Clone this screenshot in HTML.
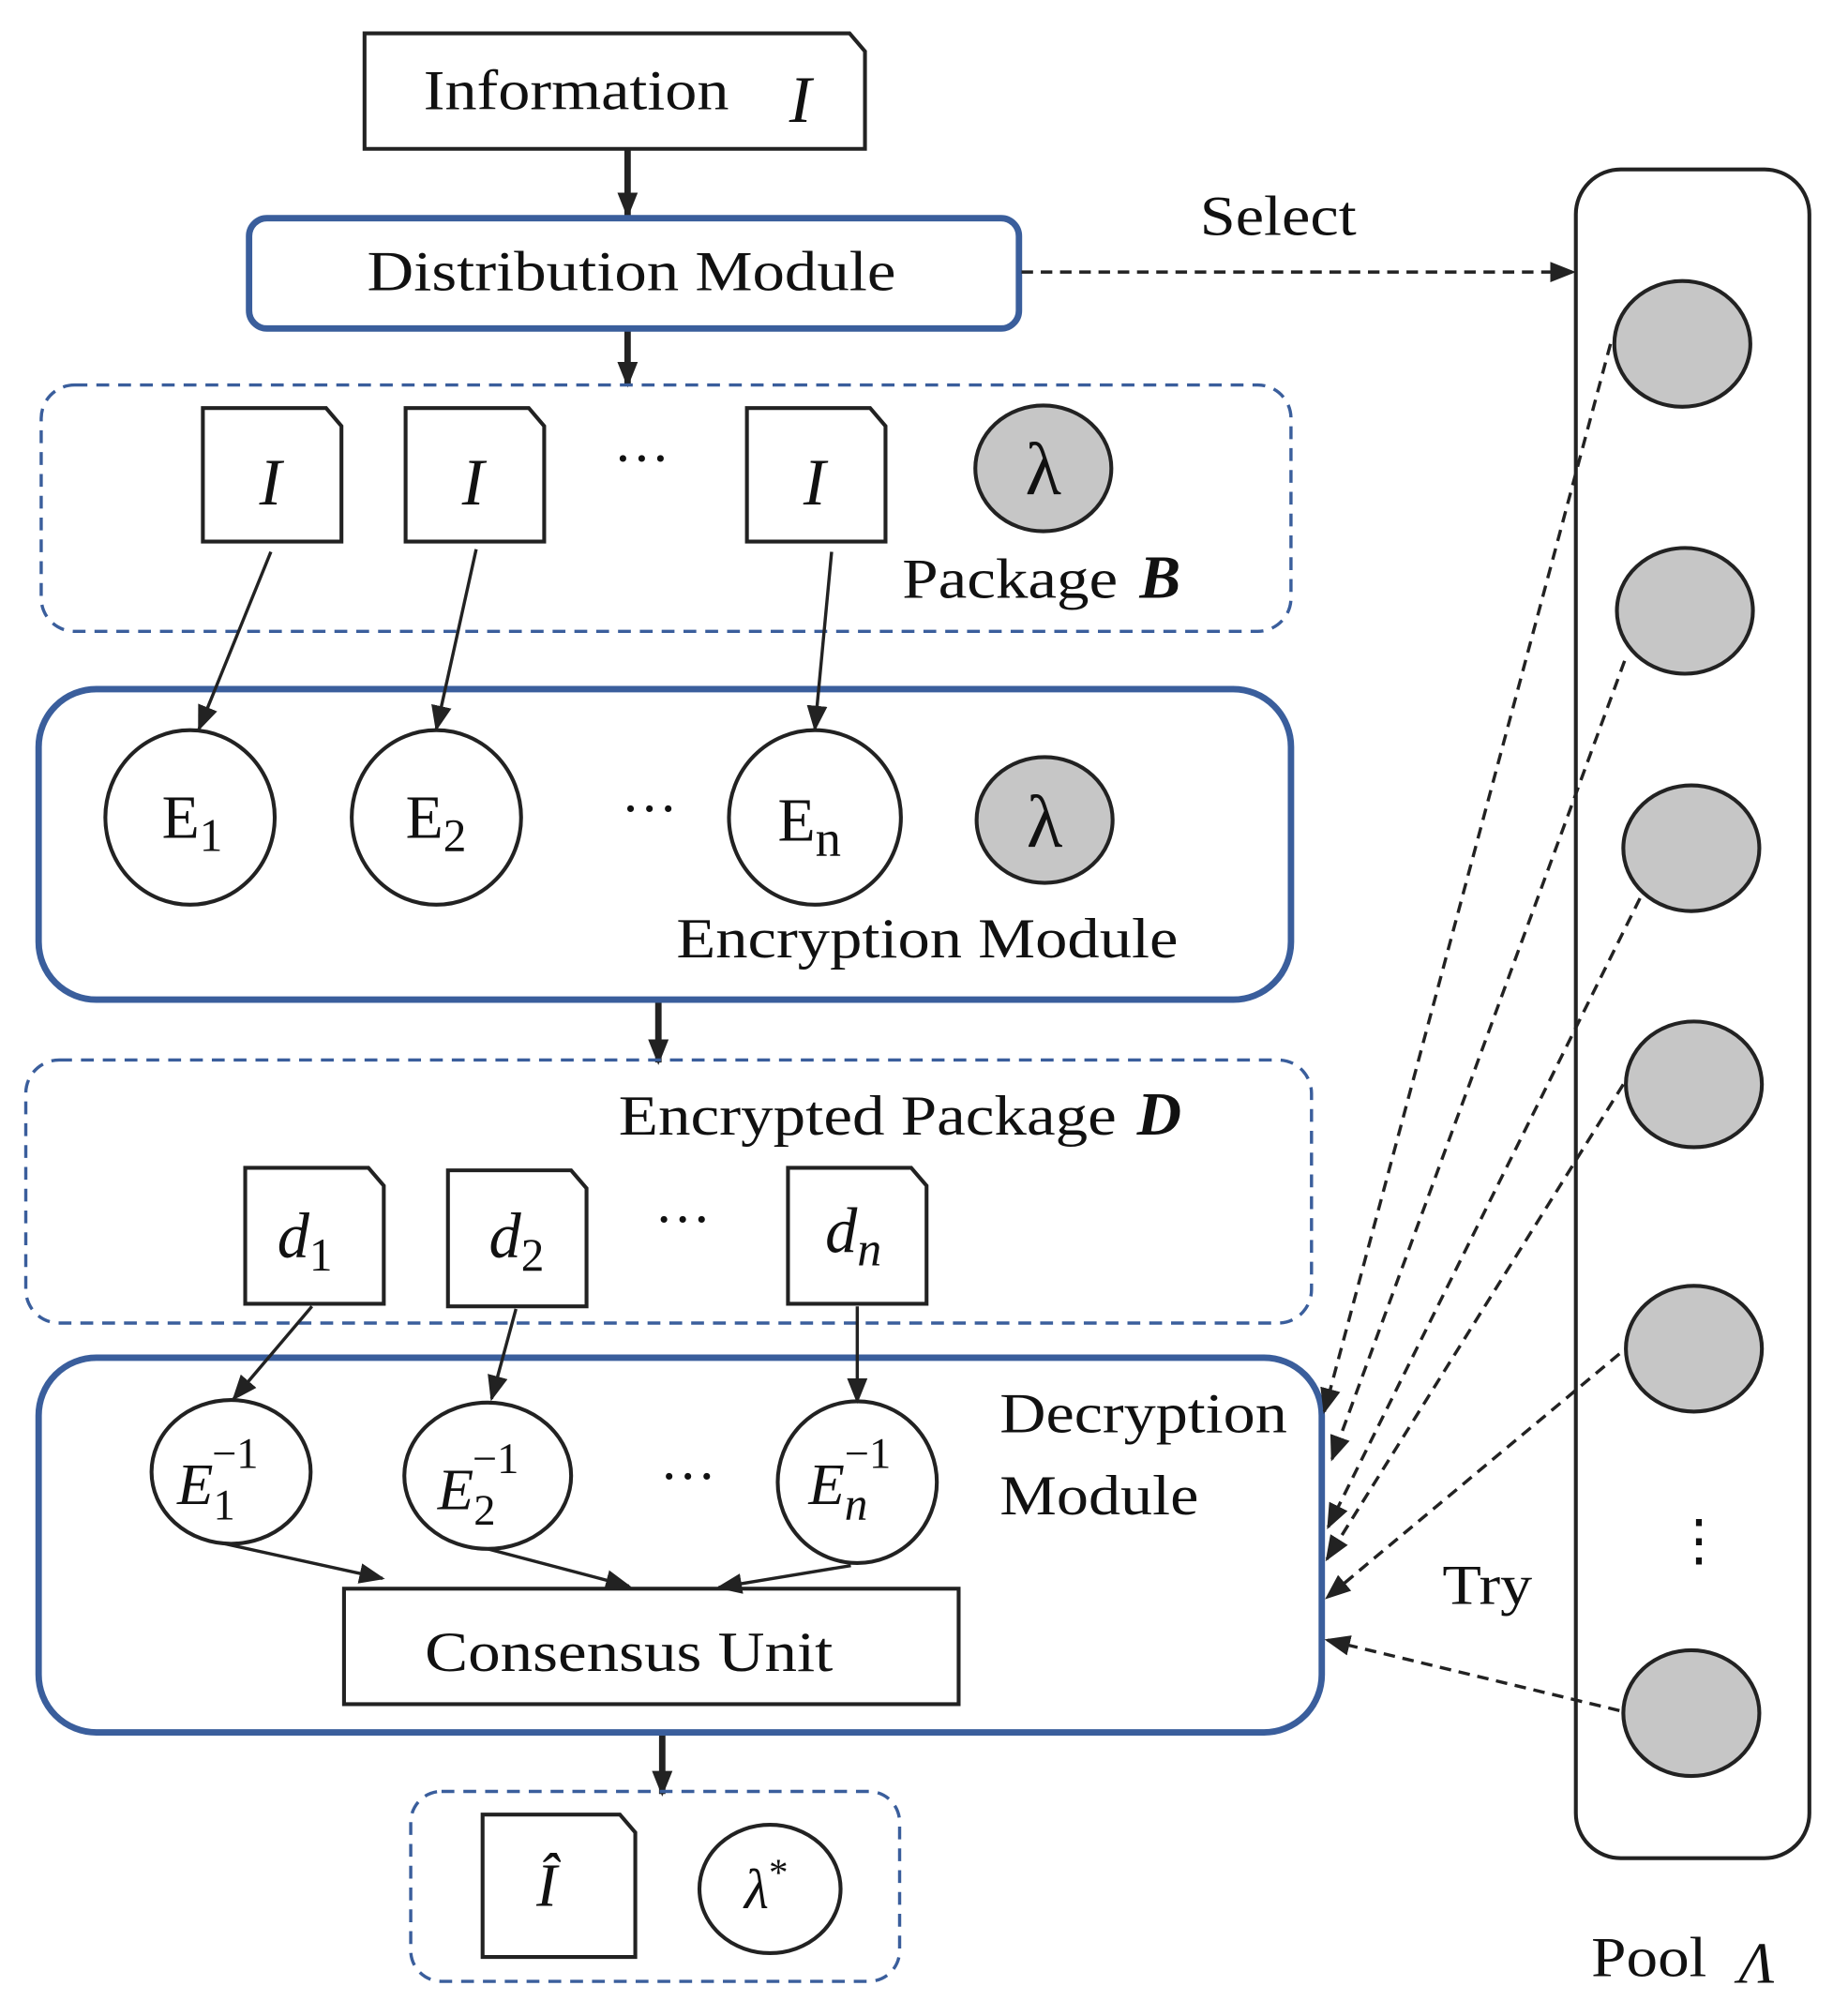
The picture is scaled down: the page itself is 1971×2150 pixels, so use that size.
<!DOCTYPE html>
<html><head><meta charset="utf-8"><style>html,body{margin:0;padding:0;background:#fff}svg{display:block}</style></head>
<body>
<svg width="1971" height="2150" viewBox="0 0 1440 1571" xmlns="http://www.w3.org/2000/svg" font-family="Liberation Serif, serif" fill="none">
<defs>
<marker id="b" markerWidth="20" markerHeight="20" refX="18" refY="10" orient="auto" markerUnits="userSpaceOnUse" viewBox="0 0 20 20"><path d="M0,2 L20,10 L0,18 z" fill="#222"/></marker>
</defs>
<g stroke="#222" stroke-width="3">
<path d="M284,26 H662 L674,40 V116 H284 Z" fill="#fff"/>
<line x1="489" y1="116" x2="489" y2="168" stroke-width="5" marker-end="url(#b)"/>
<line x1="489" y1="258" x2="489" y2="300" stroke-width="5" marker-end="url(#b)"/>
<line x1="513" y1="781" x2="513" y2="828" stroke-width="5" marker-end="url(#b)"/>
<line x1="516" y1="1352" x2="516" y2="1398" stroke-width="5" marker-end="url(#b)"/>
</g>
<g stroke="#3A5E9C" stroke-width="5">
<rect x="194" y="170" width="600" height="86" rx="14"/>
<rect x="30" y="537" width="976" height="242" rx="45"/>
<rect x="30" y="1058" width="1000" height="292" rx="45"/>
</g>
<g stroke="#3A5E9C" stroke-width="2.5" stroke-dasharray="10,7">
<rect x="32" y="300" width="974" height="192" rx="26"/>
<rect x="20" y="826" width="1002" height="205" rx="26"/>
<rect x="320" y="1396" width="381" height="148" rx="24"/>
</g>
<g stroke="#222" stroke-width="3" fill="#fff">
<path d="M158,318 H254 L266,332 V422 H158 Z"/>
<path d="M316,318 H412 L424,332 V422 H316 Z"/>
<path d="M582,318 H678 L690,332 V422 H582 Z"/>
<path d="M191,910 H287 L299,924 V1016 H191 Z"/>
<path d="M349,912 H445 L457,926 V1018 H349 Z"/>
<path d="M614,910 H710 L722,924 V1016 H614 Z"/>
<path d="M376,1414 H483 L495,1428 V1525 H376 Z"/>
<ellipse cx="148" cy="637" rx="66" ry="68"/>
<ellipse cx="340" cy="637" rx="66" ry="68"/>
<ellipse cx="635" cy="637" rx="67" ry="68"/>
<ellipse cx="180" cy="1147" rx="62" ry="56"/>
<ellipse cx="380" cy="1150" rx="65" ry="57"/>
<ellipse cx="668" cy="1155" rx="62" ry="63"/>
<ellipse cx="600" cy="1472" rx="55" ry="50"/>
<rect x="268" y="1238" width="479" height="90"/>
<rect x="1228" y="132" width="182" height="1316" rx="35"/>
</g>
<g stroke="#222" stroke-width="3" fill="#c6c6c6">
<ellipse cx="813" cy="365" rx="53" ry="49"/>
<ellipse cx="814" cy="639" rx="53" ry="49"/>
<ellipse cx="1311" cy="268" rx="53" ry="49"/>
<ellipse cx="1313" cy="476" rx="53" ry="49"/>
<ellipse cx="1318" cy="661" rx="53" ry="49"/>
<ellipse cx="1320" cy="845" rx="53" ry="49"/>
<ellipse cx="1320" cy="1051" rx="53" ry="49"/>
<ellipse cx="1318" cy="1335" rx="53" ry="49"/>
</g>
<g stroke="#222" stroke-width="2.5">
<line x1="211" y1="430" x2="155" y2="568" marker-end="url(#b)"/>
<line x1="371" y1="428" x2="340" y2="568" marker-end="url(#b)"/>
<line x1="648" y1="430" x2="635" y2="568" marker-end="url(#b)"/>
<line x1="243" y1="1018" x2="182" y2="1090" marker-end="url(#b)"/>
<line x1="402" y1="1020" x2="383" y2="1090" marker-end="url(#b)"/>
<line x1="668" y1="1018" x2="668" y2="1092" marker-end="url(#b)"/>
<line x1="175" y1="1203" x2="298" y2="1230" marker-end="url(#b)"/>
<line x1="380" y1="1207" x2="490" y2="1236" marker-end="url(#b)"/>
<line x1="663" y1="1220" x2="560" y2="1237" marker-end="url(#b)"/>
</g>
<g stroke="#222" stroke-width="2.5" stroke-dasharray="9,6">
<line x1="796" y1="212" x2="1226" y2="212" marker-end="url(#b)"/>
<line x1="1255" y1="268" x2="1032" y2="1100" marker-end="url(#b)"/>
<line x1="1266" y1="515" x2="1038" y2="1137" marker-end="url(#b)"/>
<line x1="1278" y1="700" x2="1035" y2="1190" marker-end="url(#b)"/>
<line x1="1265" y1="845" x2="1034" y2="1215" marker-end="url(#b)"/>
<line x1="1262" y1="1055" x2="1034" y2="1245" marker-end="url(#b)"/>
<line x1="1262" y1="1333" x2="1034" y2="1278" marker-end="url(#b)"/>
</g>
<g fill="#111" font-size="44">
<text x="330" y="85" textLength="238" lengthAdjust="spacingAndGlyphs">Information</text>
<text x="615" y="95" font-style="italic" font-size="52">I</text>
<text x="492" y="226" text-anchor="middle" textLength="412" lengthAdjust="spacingAndGlyphs">Distribution Module</text>
<text x="935" y="183" textLength="122" lengthAdjust="spacingAndGlyphs">Select</text>
<text x="202" y="393" font-style="italic" font-size="52">I</text>
<text x="360" y="393" font-style="italic" font-size="52">I</text>
<text x="626" y="393" font-style="italic" font-size="52">I</text>
<text x="500" y="372" text-anchor="middle">···</text>
<text x="813" y="385" text-anchor="middle" font-size="58">λ</text>
<text x="703" y="466" textLength="168" lengthAdjust="spacingAndGlyphs">Package</text>
<text x="888" y="466" font-style="italic" font-weight="bold" font-size="48">B</text>
<text x="126" y="653" font-size="48">E<tspan font-size="36" dy="10">1</tspan></text>
<text x="316" y="653" font-size="48">E<tspan font-size="36" dy="10">2</tspan></text>
<text x="606" y="655" font-size="48">E<tspan font-size="40" dy="12">n</tspan></text>
<text x="506" y="645" text-anchor="middle">···</text>
<text x="814" y="660" text-anchor="middle" font-size="58">λ</text>
<text x="527" y="746" textLength="391" lengthAdjust="spacingAndGlyphs">Encryption Module</text>
<text x="482" y="884" textLength="388" lengthAdjust="spacingAndGlyphs">Encrypted Package</text>
<text x="886" y="884" font-style="italic" font-weight="bold" font-size="48">D</text>
<text x="216" y="980" font-style="italic" font-size="50">d<tspan font-style="normal" font-size="36" dy="10">1</tspan></text>
<text x="381" y="980" font-style="italic" font-size="50">d<tspan font-style="normal" font-size="36" dy="10">2</tspan></text>
<text x="643" y="976" font-style="italic" font-size="50">d<tspan font-size="38" dy="10">n</tspan></text>
<text x="532" y="965" text-anchor="middle">···</text>
<text x="138" y="1172" font-style="italic" font-size="46">E<tspan font-style="normal" font-size="34" dy="12">1</tspan><tspan font-style="normal" font-size="34" dx="-18" dy="-40">−1</tspan></text>
<text x="341" y="1176" font-style="italic" font-size="46">E<tspan font-style="normal" font-size="34" dy="12">2</tspan><tspan font-style="normal" font-size="34" dx="-18" dy="-40">−1</tspan></text>
<text x="630" y="1172" font-style="italic" font-size="46">E<tspan font-size="36" dy="12">n</tspan><tspan font-style="normal" font-size="34" dx="-18" dy="-40">−1</tspan></text>
<text x="536" y="1165" text-anchor="middle">···</text>
<text x="779" y="1116" textLength="224" lengthAdjust="spacingAndGlyphs">Decryption</text>
<text x="779" y="1180" textLength="155" lengthAdjust="spacingAndGlyphs">Module</text>
<text x="490" y="1302" text-anchor="middle" textLength="318" lengthAdjust="spacingAndGlyphs">Consensus Unit</text>
<text x="1124" y="1250" textLength="70" lengthAdjust="spacingAndGlyphs">Try</text>
<text x="1324" y="1215" text-anchor="middle">⋮</text>
<text x="1240" y="1540" textLength="90" lengthAdjust="spacingAndGlyphs">Pool</text>
<text x="1355" y="1545" font-style="italic" font-size="46">Λ</text>
<text x="418" y="1485" font-style="italic" font-size="48">Î</text>
<text x="580" y="1487" font-style="italic" font-size="44">λ<tspan font-style="normal" font-size="30" dy="-18">*</tspan></text>
</g>
</svg>
</body></html>
